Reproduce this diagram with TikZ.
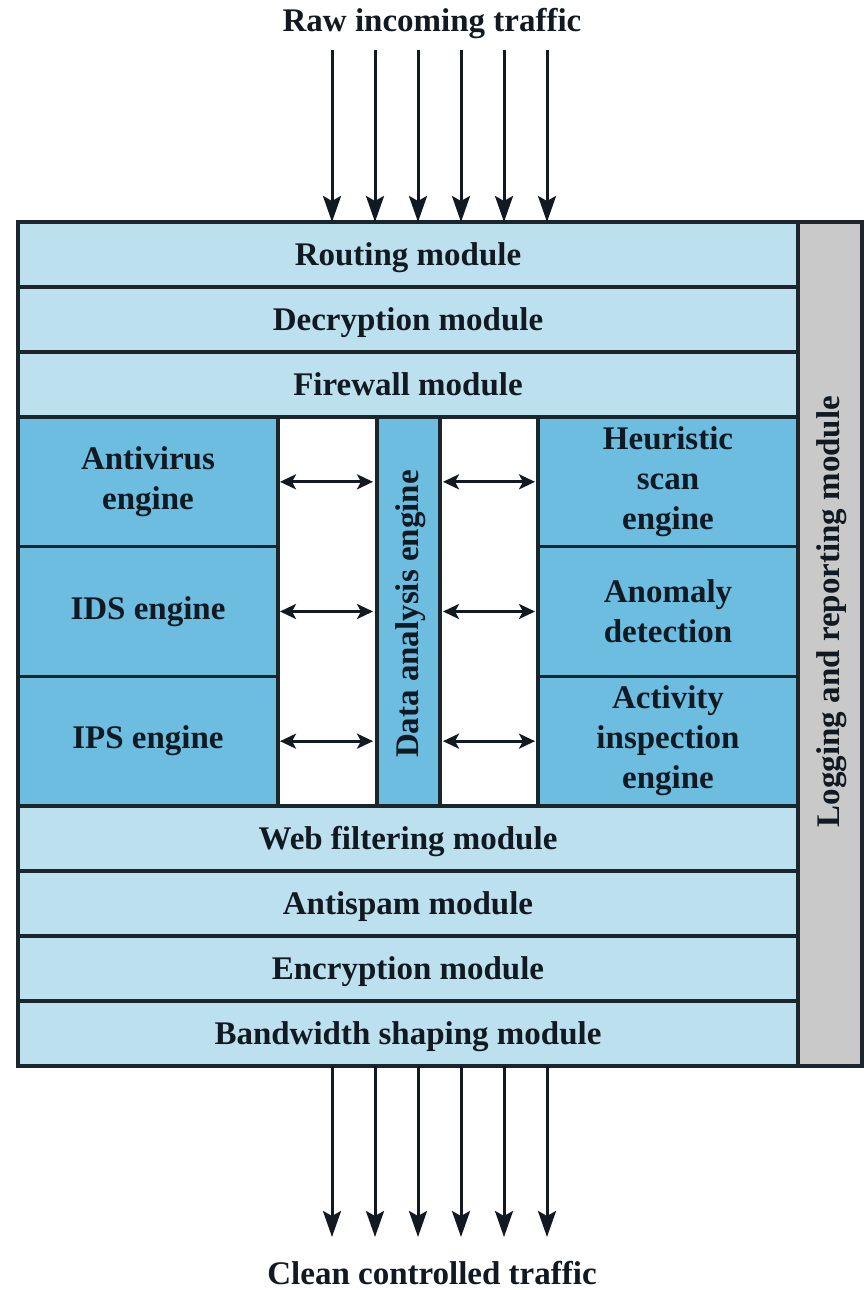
\documentclass[tikz,border=0pt]{standalone}
\usepackage{fontspec}
\setmainfont{Liberation Serif}
\usetikzlibrary{arrows.meta}
\definecolor{lightrow}{HTML}{BDE0EE}
\definecolor{engine}{HTML}{6CBDDF}
\definecolor{loggray}{HTML}{C9C9C9}
\definecolor{edge}{HTML}{1A262C}
\definecolor{ink}{HTML}{111A22}
\begin{document}
\begin{tikzpicture}[x=1pt,y=-1pt,
  txt/.style={text=ink, font=\fontsize{33}{40}\selectfont\bfseries, align=center, inner sep=0pt},
  box/.style={txt, draw=edge, line width=3.2pt, outer sep=0pt},
  row/.style={box, fill=lightrow, minimum width=780pt, minimum height=65pt, text height=25pt, text depth=4pt},
  eng/.style={box, fill=engine, minimum width=260pt, minimum height=129.67pt},
  flow/.style={-{Stealth[length=26pt,width=18pt,inset=5pt]}, line width=3pt, draw=ink},
  link/.style={{Stealth[length=16pt,width=15pt,inset=4pt]}-{Stealth[length=16pt,width=15pt,inset=4pt]}, line width=2.8pt, draw=ink}]
\useasboundingbox[fill=white] (0,0) rectangle (867,1290);

% logging column
\node[box, fill=loggray, minimum width=64pt, minimum height=844pt] (log) at (830,644) {};
\node[txt, rotate=90] (logtxt) at (832,611.5) {Logging and reporting module};

% top rows
\node[row] (routing) at (408,254.5) {Routing module};
\node[row] (decrypt) at (408,319.5) {Decryption module};
\node[row] (firewall) at (408,384.5) {Firewall module};

% engines
\node[eng] (av) at (148,481.83) {Antivirus\\engine};
\node[eng] (ids) at (148,611.5) {IDS engine};
\node[eng] (ips) at (148,741.17) {IPS engine};
\node[eng] (heur) at (668,481.83) {Heuristic\\scan\\engine};
\node[eng] (anom) at (668,611.5) {Anomaly\\detection};
\node[eng] (act) at (668,741.17) {Activity\\inspection\\engine};

% data analysis engine
\node[box, fill=engine, minimum width=63pt, minimum height=389pt] (dae) at (408.5,611.5) {};
\node[txt, rotate=90] (daetxt) at (410.5,614) {Data analysis engine};

% bottom rows
\node[row] (web) at (408,838.5) {Web filtering module};
\node[row] (spam) at (408,903.5) {Antispam module};
\node[row] (encrypt) at (408,968.5) {Encryption module};
\node[row] (band) at (408,1033.5) {Bandwidth shaping module};

% double arrows
\foreach \e in {av,ids,ips}{
  \draw[link, shorten <=2pt, shorten >=4pt] (\e.east) -- (\e.east -| dae.west);
}
\foreach \e in {heur,anom,act}{
  \draw[link, shorten <=3pt, shorten >=3pt] (\e.west -| dae.east) -- (\e.west);
}

% incoming / outgoing traffic
\node[txt, anchor=base] (raw) at (432,32) {Raw incoming traffic};
\node[txt, anchor=base] (clean) at (432,1284) {Clean controlled traffic};
\foreach \i/\x in {1/332,2/375,3/418,4/461,5/504,6/547}{
  \coordinate (in\i) at (\x,50);
  \coordinate (out\i) at (\x,1237);
  \draw[flow] (in\i) -- (in\i |- routing.north);
  \draw[flow] (out\i |- band.south) -- (out\i);
}
\end{tikzpicture}
\end{document}
